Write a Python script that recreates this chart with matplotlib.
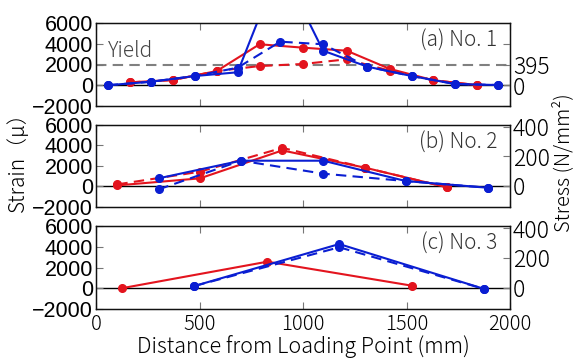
import numpy as np
import matplotlib
matplotlib.use('Agg')
import matplotlib.pyplot as plt

JP = ['Noto Sans CJK JP', 'DejaVu Sans']
plt.rcParams['font.family'] = JP

RED = '#e3141e'
BLUE = '#0a1ed2'

# panel (a) No. 1
xa_red = [164, 370, 583, 790, 1001, 1211, 1420, 1630, 1839]
ya_red_solid = [280, 500, 1370, 3950, 3620, 3330, 1570, 480, 20]
ya_red_dash = [280, 500, 1370, 1850, 2050, 2500, 1400, 480, 20]
xa_blue = [56, 266, 478, 684, 890, 1097, 1311, 1525, 1734, 1943]
ya_blue_solid = [0, 340, 890, 1250, 11650, 3330, 1790, 890, 120, 20]
ya_blue_dash = [0, 340, 890, 1690, 4200, 3950, 1790, 890, 120, 20]

# panel (b) No. 2
xb_red = [103, 502, 900, 1300, 1697]
yb_red_solid = [100, 785, 3500, 1820, -90]
yb_red_dash = [200, 1430, 3750, 1820, -90]
xb_blue = [302, 700, 1098, 1497, 1894]
yb_blue_solid = [785, 2500, 2500, 520, -130]
yb_blue_dash = [-290, 2500, 1240, 520, -130]

# panel (c) No. 3
xc_red = [124, 828, 1525]
yc_red_solid = [0, 2560, 250]
xc_blue = [475, 1175, 1876]
yc_blue_solid = [215, 4260, -70]
yc_blue_dash = [215, 3950, -70]

yield_strain = 2000
yield_stress = 395

fig = plt.figure(figsize=(5.79, 3.61), dpi=100)
L, R = 96/579, 510/579
boxes = [(23, 106), (124.7, 207), (226, 309)]
axes = []
for top, bot in boxes:
    ax = fig.add_axes([L, 1 - bot/361, R - L, (bot - top)/361])
    axes.append(ax)

panels = [
    (xa_red, [ya_red_solid, ya_red_dash], xa_blue, [ya_blue_solid, ya_blue_dash], '(a) No. 1'),
    (xb_red, [yb_red_solid, yb_red_dash], xb_blue, [yb_blue_solid, yb_blue_dash], '(b) No. 2'),
    (xc_red, [yc_red_solid], xc_blue, [yc_blue_solid, yc_blue_dash], '(c) No. 3'),
]

for i, (ax, (xr, yrs, xb, ybs, title)) in enumerate(zip(axes, panels)):
    ax.axhline(0, color='black', lw=1.0, zorder=1)
    for k, y in enumerate(yrs):
        ax.plot(xr, y, color=RED, lw=1.5, ls='-' if k == 0 else (0, (5, 3)),
                marker='o', ms=5.5, zorder=3)
    for k, y in enumerate(ybs):
        ax.plot(xb, y, color=BLUE, lw=1.5, ls='-' if k == 0 else (0, (5, 3)),
                marker='o', ms=5.5, zorder=3)
    ax.set_xlim(0, 2000)
    ax.set_ylim(-2000, 6000)
    ax.set_yticks([-2000, 0, 2000, 4000, 6000])
    ax.set_xticks([0, 500, 1000, 1500, 2000])
    ax.tick_params(axis='y', direction='in', length=5, color='#777777',
                   labelsize=15.5, pad=2)
    for lab in ax.get_yticklabels():
        lab.set_family('Liberation Sans')
    ax.tick_params(axis='x', direction='in', length=5, color='#777777',
                   top=True, labelsize=14.5)
    for lab in ax.get_xticklabels():
        lab.set_fontweight('light')
    if i < 2:
        ax.tick_params(axis='x', labelbottom=False)
    for s in ax.spines.values():
        s.set_color('#111111')
        s.set_linewidth(1.0)
    ax.text(0.969, 0.78, title, transform=ax.transAxes, ha='right', va='center',
            fontsize=15, color='#333333', fontweight='light')

    ax2 = ax.twinx()
    if i == 0:
        ax2.set_ylim(-yield_stress, 3*yield_stress)
        ax2.set_yticks([-yield_stress, 0, yield_stress, 2*yield_stress])
        ax2.set_yticklabels(['', '0', str(yield_stress), ''])
    else:
        ax2.set_ylim(-142, 414)
        ax2.set_yticks([0, 200, 400])
    ax2.tick_params(axis='y', direction='in', length=5, color='#777777',
                    labelsize=16.5, pad=2)
    for lab in ax2.get_yticklabels():
        lab.set_fontweight('light')
    for s in ax2.spines.values():
        s.set_color('#111111')

axes[0].axhline(yield_strain, color='#808080', lw=1.5, ls=(0, (5, 3)), zorder=0)
axes[0].text(0.03, 0.53, 'Yield', transform=axes[0].transAxes, fontsize=15,
             color='#444444', ha='left', va='bottom', fontweight='light')

axes[2].set_xlabel('Distance from Loading Point (mm)', fontsize=15.5, labelpad=0,
                   fontweight='light')
fig.text(0.031, 0.565, 'Strain（μ）', rotation=90, ha='center', va='center',
         fontsize=15, fontweight='light')
fig.text(0.973, 0.55, 'Stress (N/mm²)', rotation=90, ha='center', va='center',
         fontsize=14.5, fontweight='light')

fig.savefig('out.png', dpi=100)
